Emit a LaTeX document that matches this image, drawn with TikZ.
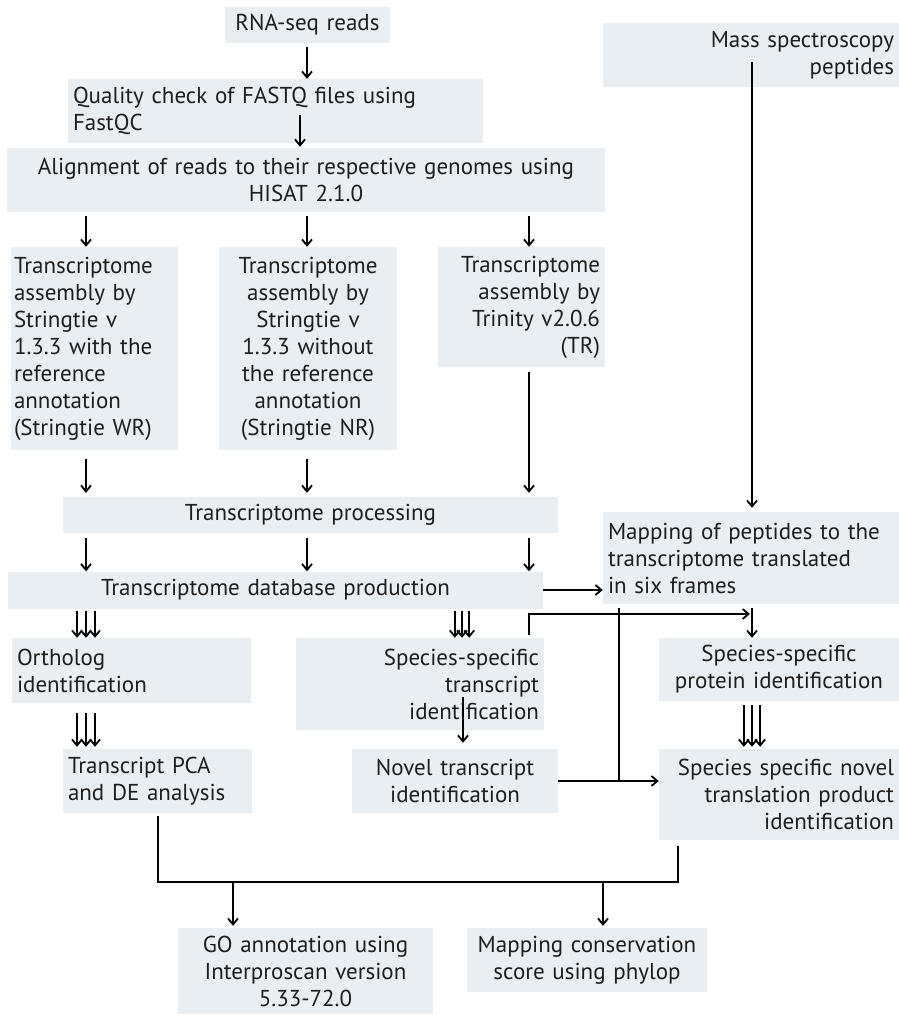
\documentclass[tikz,border=0pt]{standalone}
\usepackage{fontspec}
\setmainfont{PT Sans}
\usetikzlibrary{arrows.meta,calc}
\definecolor{boxfill}{HTML}{E9EEF2}
\definecolor{txt}{HTML}{1E1E1E}
\begin{document}
\begin{tikzpicture}[x=1pt,y=-1pt,
  box/.style={fill=boxfill, inner xsep=5pt, inner ysep=0pt, text=txt,
    font=\fontsize{23}{27}\selectfont},
  arr/.style={line width=1.8pt, -{Straight Barb[length=6pt,width=10pt]}},
  ln/.style={line width=1.8pt}]
\useasboundingbox (0,0) rectangle (899,1015);
% nodes
\node[box, text width=155pt, align=center, minimum height=36pt] (rna) at (307.5,25) {RNA-seq reads};
\node[box, text width=405pt, align=left, minimum height=64pt] (qc) at (275.5,111) {Quality check of FASTQ files using\\FastQC};
\node[box, text width=588pt, align=center, minimum height=64pt] (align) at (306,180) {Alignment of reads to their respective genomes using\\HISAT 2.1.0};
\node[box, inner xsep=3pt, text width=161pt, align=left, minimum height=203pt] (wr) at (94.5,348.5) {Transcriptome\\assembly by\\Stringtie v\\1.3.3 with the\\reference\\annotation\\\mbox{(Stringtie WR)}};
\node[box, text width=168pt, align=center, minimum height=203pt] (nr) at (308,348.5) {Transcriptome\\assembly by\\Stringtie v\\1.3.3 without\\the reference\\annotation\\(Stringtie NR)};
\node[box, text width=157pt, align=right, minimum height=120pt] (tr) at (521.5,307) {Transcriptome\\assembly by\\Trinity v2.0.6\\(TR)};
\node[box, text width=485pt, align=center, minimum height=36pt] (proc) at (310.5,515) {Transcriptome processing};
\node[box, text width=525pt, align=center, minimum height=37pt] (db) at (275.5,590) {Transcriptome database production};
\node[box, text width=286pt, align=right, minimum height=64pt] (mass) at (751,55) {Mass spectroscopy\\peptides};
\node[box, text width=286pt, align=left, minimum height=92pt] (map) at (751,558) {Mapping of peptides to the\\transcriptome translated\\in six frames};
\node[box, text width=229pt, align=left, minimum height=65pt] (orth) at (131.5,670.5) {Ortholog\\identification};
\node[box, text width=238pt, align=right, minimum height=92pt] (sst) at (420,684) {Species-specific\\transcript\\identification};
\node[box, text width=230pt, align=center, minimum height=63pt] (ssp) at (779,669.5) {Species-specific\\protein identification};
\node[box, text width=179pt, align=left, minimum height=64pt] (pca) at (157.5,781) {Transcript PCA\\and DE analysis};
\node[box, text width=196pt, align=center, minimum height=64pt] (novel) at (455,781) {Novel transcript\\identification};
\node[box, text width=230pt, align=right, minimum height=91pt] (ssn) at (779,794.5) {Species specific novel\\translation product\\identification};
\node[box, text width=245pt, align=center, minimum height=86pt] (go) at (305.5,971) {GO annotation using\\Interproscan version\\5.33-72.0};
\node[box, text width=230pt, align=center, minimum height=64pt] (cons) at (587,960) {Mapping conservation\\score using phylop};
% column coordinates
\coordinate (cA) at (86,0);
\coordinate (cB) at (307,0);
\coordinate (cC) at (529,0);
\coordinate (cQ) at (300,0);
\coordinate (cD) at (752,0);
\coordinate (cE) at (619,0);
\coordinate (cF) at (462,0);
\coordinate (cG) at (158,0);
\coordinate (cH) at (678,0);
\coordinate (cI) at (233,0);
\coordinate (cJ) at (603,0);
\coordinate (hJ) at (0,882);
\coordinate (j1) at (750,614);
% connectors
\draw[arr, shorten <=4pt] (rna.south -| cB) -- (qc.north -| cB);
\draw[arr, shorten >=1pt] ($(qc.south -| cQ)+(0,-28)$) -- (align.north -| cQ);
\draw[arr, shorten <=4pt] (align.south -| cA) -- (wr.north -| cA);
\draw[arr, shorten <=4pt] (align.south -| cB) -- (nr.north -| cB);
\draw[arr, shorten <=4pt] (align.south -| cC) -- (tr.north -| cC);
\draw[arr, shorten <=9pt, shorten >=4pt] (wr.south -| cA) -- (proc.north -| cA);
\draw[arr, shorten <=9pt, shorten >=4pt] (nr.south -| cB) -- (proc.north -| cB);
\draw[arr, shorten <=5pt, shorten >=4pt] (tr.south -| cC) -- (proc.north -| cC);
\draw[arr, shorten <=5pt] (proc.south -| cA) -- (db.north -| cA);
\draw[arr, shorten <=5pt] (proc.south -| cB) -- (db.north -| cB);
\draw[arr, shorten <=5pt] (proc.south -| cC) -- (db.north -| cC);
\draw[arr] (db.east) -- (db.east -| map.west);
\foreach \d in {-9,0,9} {
  \draw[arr, shorten <=2pt] ($(db.south -| cA)+(\d,0)$) -- ($(orth.north -| cA)+(\d,0)$);
  \draw[arr, shorten <=2pt] ($(db.south -| cF)+(0.8*\d,0)$) -- ($(sst.north -| cF)+(0.8*\d,0)$);
  \draw[arr, shorten <=10pt, shorten >=2pt] ($(orth.south -| cA)+(\d,0)$) -- ($(pca.north -| cA)+(\d,0)$);
  \draw[arr, shorten <=4pt, shorten >=2pt] ($(ssp.south -| cD)+(0.9*\d,0)$) -- ($(ssn.north -| cD)+(0.9*\d,0)$);
}
\draw[arr, shorten >=4pt] ($(mass.south -| cD)+(0,-25)$) -- (map.north -| cD);
\draw[arr, shorten <=4pt] (map.south -| cD) -- (ssp.north -| cD);
\draw[arr, shorten <=3pt] (sst.north -| cC) |- (j1);
\draw[ln, shorten <=4pt] (map.south -| cE) -- (cE |- novel.east);
\draw[arr, shorten >=6pt] ($(sst.south -| cF)+(1,-33)$) -- ($(novel.north -| cF)+(1,0)$);
\draw[arr] (novel.east) -- (novel.east -| ssn.west);
\draw[ln, shorten <=3pt, shorten >=6pt] (pca.south -| cG) |- (hJ -| cH) -- (ssn.south -| cH);
\draw[arr, shorten >=2pt] (hJ -| cI) -- (go.north -| cI);
\draw[arr, shorten >=2pt] (hJ -| cJ) -- (cons.north -| cJ);
\end{tikzpicture}
\end{document}
